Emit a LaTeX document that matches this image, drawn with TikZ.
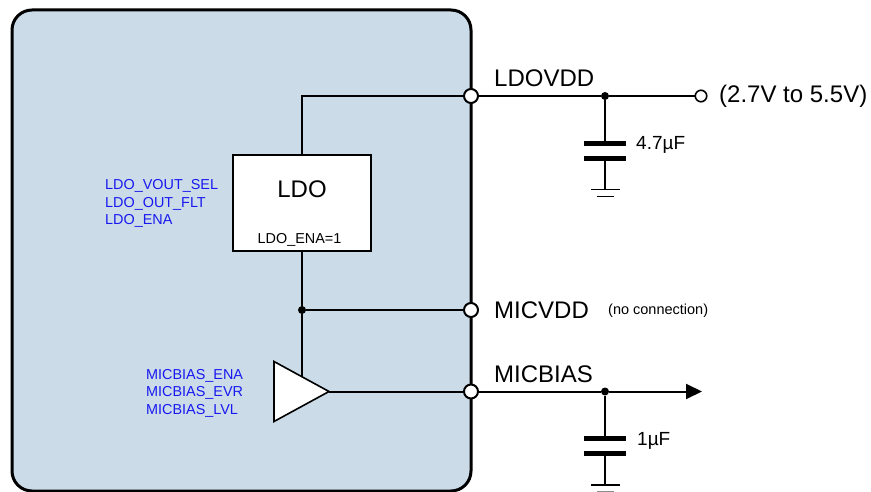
\documentclass[tikz,border=0pt]{standalone}
\usepackage{fontspec}
\setmainfont{Liberation Sans}
\usetikzlibrary{positioning,calc,shapes.geometric,arrows.meta}
\definecolor{ChipBlue}{RGB}{203,220,232}
\definecolor{RegBlue}{RGB}{24,24,240}

\begin{document}
\begin{tikzpicture}[x=1pt,y=-1pt,
  wire/.style={line width=2pt},
  pinbig/.style={font=\fontsize{24}{26}\selectfont,inner sep=0pt,anchor=base west},
  pinsmall/.style={font=\fontsize{14.5}{17}\selectfont,inner sep=0pt,anchor=base west},
  capval/.style={font=\fontsize{19}{21}\selectfont,inner sep=0pt,anchor=base west},
  reglist/.style={font=\fontsize{14.4}{17.5}\selectfont,text=RegBlue,align=left,inner sep=0pt,anchor=west},
  pinring/.style={circle,draw,line width=2pt,fill=white,minimum size=14pt,inner sep=0pt,outer sep=0pt},
  junction/.style={circle,fill=black,minimum size=8pt,inner sep=0pt,outer sep=0pt},
  capplate/.style={fill=black,minimum width=42pt,minimum height=5pt,inner sep=0pt,outer sep=0pt},
  gndbar/.style={fill=black,minimum height=1.6pt,inner sep=0pt,outer sep=0pt}]
\useasboundingbox (0,0) rectangle (871,492);
\node[draw,line width=3pt,fill=ChipBlue,rounded corners=20pt,minimum width=459pt,minimum height=481pt,outer sep=0pt] (chip) at (241.5,250.5) {};
% regulator and buffer
\node[draw,line width=2pt,fill=white,minimum width=138pt,minimum height=96pt,outer sep=0pt] (ldo) at (302,203) {};
\node[font=\fontsize{24}{26}\selectfont,inner sep=0pt,anchor=base] (ldoname) at (302,197) {LDO};
\node[font=\fontsize{14.4}{17}\selectfont,inner sep=0pt,anchor=base] (ldoena) at (299.5,243.5) {LDO\_ENA=1};
\node[isosceles triangle,isosceles triangle stretches,draw,line width=1.6pt,fill=white,minimum height=55pt,minimum width=60pt,inner sep=0pt,outer sep=0pt,anchor=lower side] (buf) at (274,391.5) {};
\coordinate (bufin) at (ldo.south |- 0,376.5);
% pins
\node[pinring] (pinvdd) at (471,96) {};
\node[pinring] (pinmic) at (471,310) {};
\node[pinring] (pinbias) at (471,391.5) {};
\node[junction] (jtop) at (605,96) {};
\node[junction] (jmic) at (302,310) {};
\node[junction] (jbias) at (605,391.5) {};
\node[circle,draw,line width=1.6pt,fill=white,minimum size=11.5pt,inner sep=0pt,outer sep=0pt] (supply) at (701,96) {};
\coordinate (tipend) at (702,391.5);
% decoupling caps
\node[capplate] (ctopa) at (605,144) {};
\node[capplate] (ctopb) at (605,158.5) {};
\node[gndbar,minimum width=29pt] (gtopa) at (605,189.5) {};
\node[gndbar,minimum width=17pt] (gtopb) at (605,196.5) {};
\node[capplate] (cbota) at (605,438.5) {};
\node[capplate] (cbotb) at (605,453.5) {};
\node[gndbar,minimum width=29pt] (gbota) at (605,485) {};
\node[gndbar,minimum width=17pt,fill=black!45] (gbotb) at (605,491.4) {};
% wires
\draw[wire] (ldo.north) |- (pinvdd.west);
\draw[wire] (ldo.south) -- (bufin);
\draw[wire] (jmic) -- (pinmic.west);
\draw[wire] (buf.apex) -- (pinbias.west);
\draw[wire] (pinvdd.east) -- (jtop) -- (supply.west);
\draw[wire,-{Triangle[length=16pt,width=15pt]}] (pinbias.east) -- (jbias) -- (tipend);
\draw[wire] (jtop) -- (ctopa);
\draw[wire] (ctopb) -- (gtopa);
\draw[wire] (jbias) -- (cbota);
\draw[wire] (cbotb) -- (gbota);
% labels
\node[pinbig] (lvdd) at (494,87) {LDOVDD};
\node[pinbig] (lmic) at (494,318) {MICVDD};
\node[pinbig] (lbias) at (494,382) {MICBIAS};
\node[pinbig] (lrange) at (719,103) {(2.7V to 5.5V)};
\node[pinsmall] (lnc) at (608,314) {(no connection)};
\node[capval] (lcapa) at (636,150) {4.7µF};
\node[capval] (lcapb) at (637,445) {1µF};
\node[reglist] (regldo) at (105,203.5) {LDO\_VOUT\_SEL\\LDO\_OUT\_FLT\\LDO\_ENA};
\node[reglist] (regmic) at (146,393) {MICBIAS\_ENA\\MICBIAS\_EVR\\MICBIAS\_LVL};
\end{tikzpicture}
\end{document}
